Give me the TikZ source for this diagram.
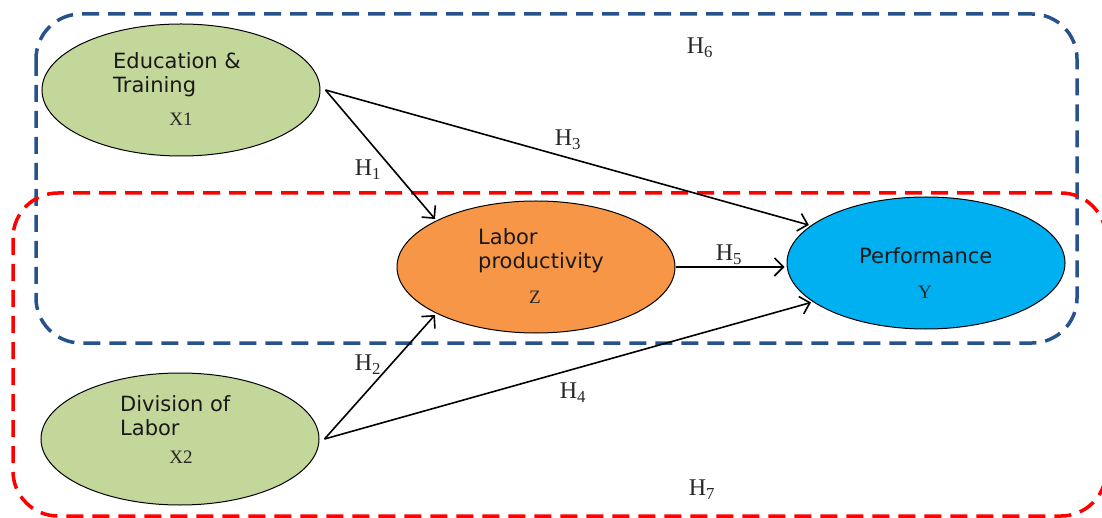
\documentclass[tikz,border=0pt]{standalone}
\usepackage{fontspec}
\setmainfont{Liberation Serif}
\newfontfamily\constructfont{DejaVu Sans}
\usetikzlibrary{shapes.geometric,arrows.meta}

\definecolor{edugreen}{RGB}{196,215,155}
\definecolor{prodorange}{RGB}{247,150,70}
\definecolor{perfblue}{RGB}{0,176,240}
\definecolor{groupblue}{RGB}{40,82,140}
\definecolor{groupred}{RGB}{255,0,0}

\tikzset{
  construct/.style={ellipse, draw=black, line width=1pt,
    minimum width=278pt, minimum height=132pt, inner sep=0pt},
  ctext/.style={font=\constructfont\fontsize{21}{24}\selectfont,
    align=left, inner sep=0pt, anchor=base west, text=black!90},
  vartext/.style={font=\fontsize{19}{20}\selectfont, inner sep=0pt, text=black!85},
  hyp/.style={font=\fontsize{24}{26}\selectfont, inner sep=0pt, text=black!85},
  relation/.style={line width=1.6pt, -{Straight Barb[length=9pt,width=18pt]},
    shorten >=2pt},
  groupbox/.style={line width=3.5pt, dash pattern=on 17pt off 9pt,
    rounded corners=45pt},
}

\begin{document}
\begin{tikzpicture}[x=1pt,y=-1pt]
\clip (0,0) rectangle (1102,518);

% hypothesis groupings
\draw[groupbox, draw=groupblue] (36,14) rectangle (1077,343);
\draw[groupbox, draw=groupred] (13,193) rectangle (1106,516);

% constructs
\node[construct, fill=edugreen]   (x1) at (181,90)  {};
\node[construct, fill=edugreen]   (x2) at (180,439) {};
\node[construct, fill=prodorange] (z)  at (536,267) {};
\node[construct, fill=perfblue]   (y)  at (926,263) {};

% construct names (anchored at the baseline of the last line)
\node[ctext] (x1name) at (113,93) {Education \&\\Training};
\node[vartext] (x1var) at (181,119.5) {X1};
\node[ctext] (zname) at (478,269) {Labor\\productivity};
\node[vartext] (zvar) at (535,297) {Z};
\node[ctext] (yname) at (859,264) {Performance};
\node[vartext] (yvar) at (925,292) {Y};
\node[ctext] (x2name) at (120,435) {Division of\\Labor};
\node[vartext] (x2var) at (181,457) {X2};

% paths
\draw[relation] ([xshift=5pt]x1.east) -- (z.155);
\draw[relation] ([xshift=5pt]x1.east) -- (y.162);
\draw[relation] (z.east) -- (z.east -| y.west);
\draw[relation] ([xshift=5pt]x2.east) -- (z.205);
\draw[relation] ([xshift=5pt]x2.east) -- (y.199);

% hypothesis labels
\node[hyp] (h1) at (368,170) {H\textsubscript{1}};
\node[hyp] (h2) at (368,365) {H\textsubscript{2}};
\node[hyp] (h3) at (568,140) {H\textsubscript{3}};
\node[hyp] (h4) at (573,393) {H\textsubscript{4}};
\node[hyp] (h5) at (729,255) {H\textsubscript{5}};
\node[hyp] (h6) at (700,48)  {H\textsubscript{6}};
\node[hyp] (h7) at (702,490) {H\textsubscript{7}};
\end{tikzpicture}
\end{document}
